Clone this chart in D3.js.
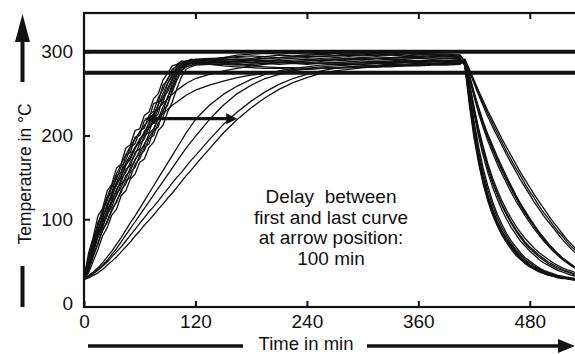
<!DOCTYPE html>
<html>
<head>
<meta charset="utf-8">
<script src="https://cdn.jsdelivr.net/npm/d3@7"></script>
<style>
  html, body { margin: 0; padding: 0; background: #fff; }
  svg { display: block; font-family: "Liberation Sans", Arial, sans-serif; }
</style>
</head>
<body>
<svg id="chart" width="575" height="354"></svg>
<script>
// ---- time grids (min) ----
const heatMinutes = [0,5,10,15,20,25,30,35,40,45,50,55,60,65,70,75,80,85,90,95,100,105,110,115,120];
const holdMinutes = [135,150,165,180,195,210,225,240,255,270,285,300,315,330,345,360,375,390,405];
const coolMinutes = [410,415,420,425,430,435,440,445,450,455,460,465,470,475,480,485,490,495,500,505,510,515,520,525,530,535,540];

// ---- heating phase, one row per run (°C) ----
const heatRuns = [
  [30,60,79,104,113,134,142,161,166,185,189,206,208,224,228,244,250,266,274,283,285,289,288,291,290],
  [29,52,76,92,110,122,138,148,163,170,186,190,205,209,224,229,245,255,268,276,284,287,289,290,291],
  [30,48,70,88,100,118,126,143,150,166,171,186,192,205,212,226,236,250,262,273,280,285,287,288,288],
  [28,45,66,80,98,108,124,133,148,156,168,177,190,196,210,218,232,240,256,268,278,283,286,287,288],
  [31,42,60,78,90,106,115,130,138,152,158,172,178,190,198,206,222,228,246,258,272,280,284,286,286],
  [29,40,55,72,86,98,112,120,135,142,156,162,176,182,196,200,215,222,238,252,266,277,282,284,285],
  [30,36,50,64,80,90,105,112,128,134,148,154,168,172,186,192,206,212,228,240,256,270,279,282,284],
  [30,55,74,96,106,126,132,152,156,176,180,198,200,218,220,238,240,260,266,279,283,287,288,289,289],
  [28,50,68,86,104,114,130,140,152,164,174,184,196,202,216,222,238,244,262,271,281,285,288,289,290],
  [30,44,64,84,94,112,120,136,144,160,164,180,184,200,204,220,226,246,252,266,276,282,285,287,287],
  [30,47,62,82,92,104,120,128,142,148,162,170,182,188,202,208,220,234,244,262,274,281,284,286,287],
  [29,38,58,70,88,96,110,122,132,146,150,166,172,186,190,206,210,230,236,255,268,278,282,284,285],
  [30,48,68,86,102,117,131,144,156,167,177,186,194,202,209,215,221,226,231,236,240,244,248,251,254],
  [30,52,74,94,111,127,141,154,166,177,187,196,204,212,219,226,232,238,244,249,254,258,262,265,268],
  [28,30,33,36,40,45,50,55,61,67,73,80,86,93,99,105,112,118,125,131,138,145,152,158,165],
  [29,31,35,39,44,49,55,61,67,74,81,88,95,102,109,115,122,129,136,143,150,156,163,170,176],
  [30,33,37,42,48,55,62,70,78,87,96,104,113,122,131,140,149,158,167,176,185,194,203,211,219],
  [30,32,36,40,45,51,58,65,73,81,89,97,105,113,121,129,137,145,153,161,169,177,185,192,199]
];

// ---- holding phase (°C) ----
const holdRuns = [
  [291,293,294,295,294,296,295,296,297,296,297,297,296,297,298,297,297,296,295],
  [292,292,293,292,294,293,294,295,294,295,296,295,296,296,295,296,296,295,294],
  [289,290,291,290,292,291,292,293,292,293,294,293,294,293,294,294,295,294,293],
  [288,289,288,289,290,289,290,291,290,291,292,291,292,292,293,292,293,292,292],
  [287,287,288,287,288,289,288,289,290,289,290,291,290,291,291,292,291,292,291],
  [286,287,286,287,286,287,288,287,288,287,288,289,288,289,290,289,290,290,290],
  [285,285,284,285,286,285,286,285,286,287,286,287,288,287,288,288,289,289,289],
  [290,293,296,297,298,297,298,297,298,298,297,298,298,297,298,298,297,297,296],
  [291,291,290,289,288,287,287,286,286,285,285,285,286,286,287,287,288,288,288],
  [288,286,285,283,282,281,281,280,280,281,281,282,282,283,283,284,285,285,286],
  [287,288,289,291,292,293,294,294,295,295,296,296,296,296,297,297,297,296,296],
  [285,283,282,281,280,280,279,279,280,280,281,281,282,282,283,283,284,284,285],
  [260,265,269,272,274,276,278,279,280,281,282,283,283,284,284,285,285,286,286],
  [273,277,280,283,285,287,288,289,290,291,291,292,292,293,293,293,294,294,294],
  [184,203,219,233,245,255,263,269,274,277,279,281,282,283,284,284,285,285,286],
  [195,213,228,241,252,261,268,273,277,280,282,283,284,285,285,286,286,287,287],
  [236,249,259,267,273,277,280,282,284,285,286,287,287,288,288,289,289,289,290],
  [219,236,250,260,268,273,277,280,282,283,284,285,286,286,287,287,288,288,288]
];

// ---- cooling phase (°C) ----
const coolRuns = [
  [284,240,200,169,143,123,107,94,83,74,66,59,53,48,44,41,38,36,34,32,31,30,29,28,28,27,27],
  [287,246,207,176,150,129,112,98,86,77,69,62,56,51,46,43,40,37,35,33,32,31,30,29,28,28,27],
  [288,258,226,198,175,155,138,124,111,100,90,82,74,68,62,57,52,48,45,42,39,37,35,33,32,31,30],
  [283,236,197,166,141,121,105,92,81,72,64,57,52,47,43,40,37,35,33,32,30,29,29,28,27,27,26],
  [290,272,252,233,216,201,188,175,163,151,140,129,119,110,101,93,85,78,71,65,59,54,50,46,42,39,37],
  [286,250,212,181,155,134,117,102,90,80,71,64,58,52,48,44,41,38,36,34,32,31,30,29,28,28,27],
  [291,279,266,253,241,229,218,207,196,186,176,166,156,147,138,129,121,113,105,97,90,83,76,70,64,59,54],
  [288,243,203,172,146,126,110,96,85,75,67,60,54,49,45,42,39,36,34,33,31,30,29,29,28,27,27],
  [289,263,234,208,186,166,149,135,122,111,101,92,84,77,71,65,60,56,52,48,45,42,40,38,36,35,34],
  [290,268,246,226,209,193,179,166,154,143,132,122,113,104,96,88,81,74,68,62,57,52,48,44,41,38,36],
  [289,254,217,186,160,139,121,106,94,83,74,67,60,54,50,46,42,39,37,35,33,32,31,30,29,28,28],
  [290,276,262,248,235,222,210,199,188,177,167,157,147,138,129,120,112,104,97,90,83,76,70,64,59,54,50],
  [289,270,249,230,212,197,183,170,158,147,136,126,116,107,99,91,83,76,70,64,58,53,49,45,42,39,37],
  [288,260,230,203,180,160,143,129,116,105,95,86,78,71,65,60,55,51,47,44,41,39,37,35,33,32,31],
  [291,278,264,251,238,226,214,203,192,181,171,161,152,142,133,125,116,108,101,93,86,80,73,67,62,57,52],
  [290,271,250,231,214,199,185,172,160,149,138,127,117,108,100,92,84,77,70,64,59,54,49,45,42,39,36],
  [289,262,232,205,182,162,145,131,118,107,97,88,80,73,67,62,57,53,49,46,43,40,38,36,34,33,32],
  [285,244,204,172,146,125,109,95,84,75,67,60,54,49,45,41,38,36,34,32,31,30,29,28,28,27,27]
];

// ---- reference levels, arrow and axis ticks ----
const limitLines = [300, 275];          // °C
const delayArrow = { from: 65, to: 165, temp: 220 };   // min, min, °C
const xTicks = [0, 120, 240, 360, 480];
const yTicks = [0, 100, 200, 300];
const noteLines = ["Delay  between", "first and last curve", "at arrow position:", "100 min"];

// ---- layout ----
const svg = d3.select("#chart");
const frame = { left: 84, top: 13, right: 585.5, bottom: 307 };
const x = d3.scaleLinear().domain([0, 540]).range([frame.left, frame.right]);
const y = d3.scaleLinear().domain([0, 300]).range([303, 51.7]);
const ink = "#111";

// temperature curves
const times = heatMinutes.concat(holdMinutes, coolMinutes);
const runs = heatRuns.map((h, i) => h.concat(holdRuns[i], coolRuns[i]));
const line = d3.line().x((d, j) => x(times[j])).y(d => y(d));

svg.append("defs").append("clipPath").attr("id", "plot-clip")
  .append("rect")
  .attr("x", frame.left).attr("y", frame.top)
  .attr("width", frame.right - frame.left).attr("height", frame.bottom - frame.top);

svg.append("g").attr("clip-path", "url(#plot-clip)")
  .selectAll("path.run").data(runs).join("path")
  .attr("class", "run")
  .attr("d", line)
  .attr("fill", "none")
  .attr("stroke", ink)
  .attr("stroke-width", 1.3)
  .attr("stroke-linejoin", "round");

// limit lines
svg.append("g").selectAll("line.limit").data(limitLines).join("line")
  .attr("class", "limit")
  .attr("x1", frame.left).attr("x2", frame.right)
  .attr("y1", d => y(d)).attr("y2", d => y(d))
  .attr("stroke", ink).attr("stroke-width", 4);

// frame
svg.append("rect")
  .attr("x", frame.left).attr("y", frame.top)
  .attr("width", frame.right - frame.left).attr("height", frame.bottom - frame.top)
  .attr("fill", "none").attr("stroke", ink).attr("stroke-width", 2.2);

// axes with inward ticks
const styleAxis = g => {
  g.select(".domain").remove();
  g.selectAll(".tick line").attr("stroke", ink).attr("stroke-width", 2);
  g.selectAll(".tick text").attr("fill", ink).attr("font-size", 19)
    .attr("font-family", "'Liberation Sans', Arial, sans-serif");
};

svg.append("g").attr("transform", `translate(0,${frame.bottom})`)
  .call(d3.axisBottom(x).tickValues(xTicks).tickSize(-6).tickPadding(8).tickFormat(d3.format("d")))
  .call(styleAxis);

svg.append("g").attr("transform", `translate(0,${frame.top})`)
  .call(d3.axisTop(x).tickValues(xTicks.slice(1)).tickSize(-6).tickFormat(""))
  .call(styleAxis);

const gy = svg.append("g").attr("transform", `translate(${frame.left},0)`)
  .call(d3.axisLeft(y).tickValues(yTicks).tickSize(-6).tickPadding(11).tickFormat(d3.format("d")))
  .call(styleAxis);
gy.selectAll(".tick").filter(d => d === 0).select("line").remove();

svg.append("g").attr("transform", `translate(${frame.right},0)`)
  .call(d3.axisRight(y).tickValues(yTicks.slice(1, 3)).tickSize(-6).tickFormat(""))
  .call(styleAxis);

// double-headed delay arrow
const ax1 = x(delayArrow.from), ax2 = x(delayArrow.to), ay = y(delayArrow.temp);
const headL = 11, headW = 5.5;
svg.append("line")
  .attr("x1", ax1 + headL - 1).attr("x2", ax2 - headL + 1)
  .attr("y1", ay).attr("y2", ay)
  .attr("stroke", ink).attr("stroke-width", 3.2);
svg.append("path")
  .attr("d", `M${ax1},${ay} L${ax1 + headL},${ay - headW} L${ax1 + headL},${ay + headW} Z`)
  .attr("fill", ink);
svg.append("path")
  .attr("d", `M${ax2},${ay} L${ax2 - headL},${ay - headW} L${ax2 - headL},${ay + headW} Z`)
  .attr("fill", ink);

// annotation
svg.append("text")
  .attr("x", 331).attr("y", 203)
  .attr("text-anchor", "middle")
  .attr("font-size", 19).attr("fill", ink)
  .style("white-space", "pre")
  .selectAll("tspan").data(noteLines).join("tspan")
  .attr("x", 331).attr("dy", (d, i) => i === 0 ? 0 : 20.5)
  .text(d => d);

// y-axis title with arrow
const yl = 22.5;
svg.append("line").attr("x1", yl).attr("x2", yl).attr("y1", 82).attr("y2", 38)
  .attr("stroke", ink).attr("stroke-width", 4);
svg.append("path").attr("d", `M${yl},14 L${yl - 7.5},42 L${yl + 7.5},42 Z`).attr("fill", ink);
svg.append("line").attr("x1", yl).attr("x2", yl).attr("y1", 266).attr("y2", 307)
  .attr("stroke", ink).attr("stroke-width", 4);
svg.append("text")
  .attr("transform", "translate(31,174) rotate(-90)")
  .attr("text-anchor", "middle")
  .attr("font-size", 17.5).attr("fill", ink)
  .text("Temperature in °C");

// x-axis title with arrow
const xl = 346;
svg.append("line").attr("x1", 88).attr("x2", 243).attr("y1", xl).attr("y2", xl)
  .attr("stroke", ink).attr("stroke-width", 3.5);
svg.append("line").attr("x1", 367).attr("x2", 562).attr("y1", xl).attr("y2", xl)
  .attr("stroke", ink).attr("stroke-width", 3.5);
svg.append("path").attr("d", `M575,${xl} L558,${xl - 7} L558,${xl + 7} Z`).attr("fill", ink);
svg.append("text")
  .attr("x", 306).attr("y", 350)
  .attr("text-anchor", "middle")
  .attr("font-size", 18.5).attr("fill", ink)
  .text("Time in min");
</script>
</body>
</html>
